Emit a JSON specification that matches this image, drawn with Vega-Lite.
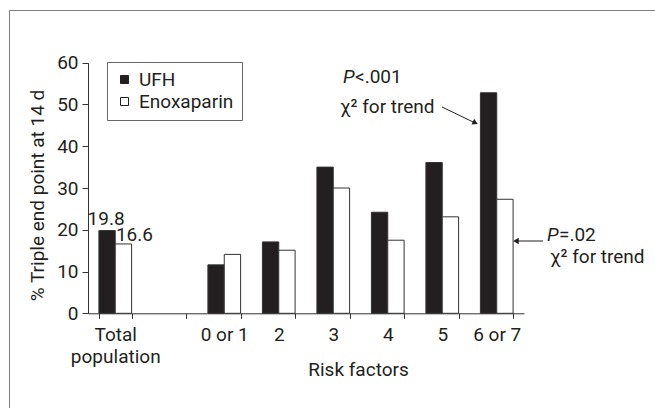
{
  "$schema": "https://vega.github.io/schema/vega-lite/v6.json",
  "width": 646,
  "height": 398,
  "autosize": "none",
  "padding": {"left": 9, "top": 10, "right": 0, "bottom": 0},
  "background": "white",
  "config": {
    "font": "Roboto",
    "view": {"stroke": "#808080", "strokeWidth": 1, "strokeDash": [646, 1044, 398, 0]},
    "text": {"font": "Roboto", "fontSize": 19, "fill": "#231f20"}
  },
  "datasets": {
    "bars": [
      {"cat": "Total population", "group": "UFH", "value": 19.8},
      {"cat": "Total population", "group": "Enoxaparin", "value": 16.6},
      {"cat": "0 or 1", "group": "UFH", "value": 11.6},
      {"cat": "0 or 1", "group": "Enoxaparin", "value": 14.1},
      {"cat": "2", "group": "UFH", "value": 17.1},
      {"cat": "2", "group": "Enoxaparin", "value": 15.1},
      {"cat": "3", "group": "UFH", "value": 35.0},
      {"cat": "3", "group": "Enoxaparin", "value": 30.0},
      {"cat": "4", "group": "UFH", "value": 24.2},
      {"cat": "4", "group": "Enoxaparin", "value": 17.5},
      {"cat": "5", "group": "UFH", "value": 36.1},
      {"cat": "5", "group": "Enoxaparin", "value": 23.1},
      {"cat": "6 or 7", "group": "UFH", "value": 52.8},
      {"cat": "6 or 7", "group": "Enoxaparin", "value": 27.3}
    ],
    "blank": [{}]
  },
  "layer": [
    {
      "layer": [
        {
          "data": {"name": "bars"},
          "mark": {"type": "bar", "stroke": "#333333", "strokeWidth": 1},
          "encoding": {
            "x": {
              "field": "cat", "type": "nominal",
              "scale": {"domain": ["Total population", "gap", "0 or 1", "2", "3", "4", "5", "6 or 7"], "range": [79, 515], "paddingInner": 0.4, "paddingOuter": 0.2},
              "axis": {
                "offset": -94.7, "tickBand": "extent", "tickSize": 5, "tickColor": "#333333", "domainColor": "#333333",
                "labelPadding": 7, "labelFont": "Roboto", "labelFontSize": 19, "labelColor": "#231f20", "labelAngle": 0, "labelLineHeight": 22,
                "labelExpr": "datum.value == 'Total population' ? ['Total', 'population'] : (datum.value == 'gap' ? '' : datum.value)",
                "title": "Risk factors", "titleFont": "Roboto", "titleFontSize": 19, "titleFontWeight": "normal", "titleColor": "#231f20",
                "titleX": 349, "titleY": 61.7, "titleBaseline": "alphabetic", "titleAlign": "center"
              }
            },
            "xOffset": {"field": "group", "type": "nominal", "scale": {"domain": ["UFH", "Enoxaparin"], "paddingInner": 0, "paddingOuter": 0}},
            "y": {
              "field": "value", "type": "quantitative",
              "scale": {"domain": [0, 60], "range": [303.3, 52.7], "nice": false},
              "axis": {
                "offset": -79, "values": [0, 10, 20, 30, 40, 50, 60], "grid": false, "tickSize": 6, "tickColor": "#333333", "domainColor": "#333333",
                "labelPadding": 4, "labelFont": "Roboto", "labelFontSize": 19, "labelColor": "#231f20",
                "title": "% Triple end point at 14 d", "titleFont": "Roboto", "titleFontSize": 19, "titleFontWeight": "normal", "titleColor": "#231f20",
                "titlePadding": 9, "titleY": 185
              }
            },
            "fill": {
              "field": "group", "type": "nominal",
              "scale": {"domain": ["UFH", "Enoxaparin"], "range": ["#231f20", "#ffffff"]},
              "legend": {
                "title": null, "orient": "none", "legendX": 98, "legendY": 52, "direction": "vertical",
                "strokeColor": "#666666", "fillColor": "#ffffff", "padding": 8,
                "symbolType": "square", "symbolSize": 64, "symbolStrokeColor": "#231f20", "symbolStrokeWidth": 1,
                "labelFont": "Roboto", "labelFontSize": 19, "labelColor": "#231f20", "labelOffset": 5, "rowPadding": 2
              }
            }
          }
        },
        {
          "data": {"name": "bars"},
          "transform": [{"filter": "datum.cat == 'Total population' && datum.group == 'UFH'"}],
          "mark": {"type": "text", "baseline": "alphabetic", "align": "center", "dy": -6, "dx": -1},
          "encoding": {
            "x": {"field": "cat", "type": "nominal", "scale": {"domain": ["Total population", "gap", "0 or 1", "2", "3", "4", "5", "6 or 7"], "range": [79, 515], "paddingInner": 0.4, "paddingOuter": 0.2}},
            "xOffset": {"field": "group", "type": "nominal", "scale": {"domain": ["UFH", "Enoxaparin"], "paddingInner": 0, "paddingOuter": 0}},
            "y": {"field": "value", "type": "quantitative"},
            "text": {"field": "value", "type": "quantitative", "format": ".1f"}
          }
        },
        {
          "data": {"name": "bars"},
          "transform": [{"filter": "datum.cat == 'Total population' && datum.group == 'Enoxaparin'"}],
          "mark": {"type": "text", "baseline": "alphabetic", "align": "center", "dy": -3, "dx": 11},
          "encoding": {
            "x": {"field": "cat", "type": "nominal", "scale": {"domain": ["Total population", "gap", "0 or 1", "2", "3", "4", "5", "6 or 7"], "range": [79, 515], "paddingInner": 0.4, "paddingOuter": 0.2}},
            "xOffset": {"field": "group", "type": "nominal", "scale": {"domain": ["UFH", "Enoxaparin"], "paddingInner": 0, "paddingOuter": 0}},
            "y": {"field": "value", "type": "quantitative"},
            "text": {"field": "value", "type": "quantitative", "format": ".1f"}
          }
        }
      ]
    },
    {
      "data": {"name": "blank"},
      "layer": [
        {
          "mark": {"type": "text", "align": "left", "baseline": "alphabetic", "fontStyle": "italic", "text": "P"},
          "encoding": {
            "x": {"datum": 4.679, "type": "quantitative", "scale": {"domain": [0, 8], "range": [79, 515], "nice": false, "zero": false}, "axis": null},
            "y": {"datum": 55.13, "type": "quantitative"}
          }
        },
        {
          "mark": {"type": "text", "align": "left", "baseline": "alphabetic", "text": "<.001", "dx": 12},
          "encoding": {
            "x": {"datum": 4.679, "type": "quantitative", "scale": {"domain": [0, 8], "range": [79, 515], "nice": false, "zero": false}, "axis": null},
            "y": {"datum": 55.13, "type": "quantitative"}
          }
        },
        {
          "mark": {"type": "text", "align": "left", "baseline": "alphabetic", "text": "χ² for trend"},
          "encoding": {
            "x": {"datum": 4.624, "type": "quantitative", "scale": {"domain": [0, 8], "range": [79, 515], "nice": false, "zero": false}, "axis": null},
            "y": {"datum": 47.95, "type": "quantitative"}
          }
        },
        {
          "mark": {"type": "text", "align": "left", "baseline": "alphabetic", "fontStyle": "italic", "text": "P"},
          "encoding": {
            "x": {"datum": 8.422, "type": "quantitative", "scale": {"domain": [0, 8], "range": [79, 515], "nice": false, "zero": false}, "axis": null},
            "y": {"datum": 17.31, "type": "quantitative"}
          }
        },
        {
          "mark": {"type": "text", "align": "left", "baseline": "alphabetic", "text": "=.02", "dx": 12},
          "encoding": {
            "x": {"datum": 8.422, "type": "quantitative", "scale": {"domain": [0, 8], "range": [79, 515], "nice": false, "zero": false}, "axis": null},
            "y": {"datum": 17.31, "type": "quantitative"}
          }
        },
        {
          "mark": {"type": "text", "align": "left", "baseline": "alphabetic", "text": "χ² for trend"},
          "encoding": {
            "x": {"datum": 8.477, "type": "quantitative", "scale": {"domain": [0, 8], "range": [79, 515], "nice": false, "zero": false}, "axis": null},
            "y": {"datum": 12.04, "type": "quantitative"}
          }
        },
        {
          "mark": {"type": "rule", "stroke": "#231f20", "strokeWidth": 1},
          "encoding": {
            "x": {"datum": 6.495, "type": "quantitative", "scale": {"domain": [0, 8], "range": [79, 515], "nice": false, "zero": false}, "axis": null},
            "y": {"datum": 49.39, "type": "quantitative"},
            "x2": {"datum": 7.10},
            "y2": {"datum": 45.6}
          }
        },
        {
          "mark": {"type": "point", "shape": "triangle-right", "angle": 25, "filled": true, "fill": "#231f20", "size": 40, "opacity": 1},
          "encoding": {
            "x": {"datum": 7.106, "type": "quantitative", "scale": {"domain": [0, 8], "range": [79, 515], "nice": false, "zero": false}, "axis": null},
            "y": {"datum": 45.63, "type": "quantitative"}
          }
        },
        {
          "mark": {"type": "rule", "stroke": "#231f20", "strokeWidth": 1},
          "encoding": {
            "x": {"datum": 8.349, "type": "quantitative", "scale": {"domain": [0, 8], "range": [79, 515], "nice": false, "zero": false}, "axis": null},
            "y": {"datum": 17.31, "type": "quantitative"},
            "x2": {"datum": 7.85},
            "y2": {"datum": 17.31}
          }
        },
        {
          "mark": {"type": "point", "shape": "triangle-left", "filled": true, "fill": "#231f20", "size": 40, "opacity": 1},
          "encoding": {
            "x": {"datum": 7.853, "type": "quantitative", "scale": {"domain": [0, 8], "range": [79, 515], "nice": false, "zero": false}, "axis": null},
            "y": {"datum": 17.31, "type": "quantitative"}
          }
        }
      ]
    }
  ],
  "resolve": {"scale": {"x": "independent"}}
}
